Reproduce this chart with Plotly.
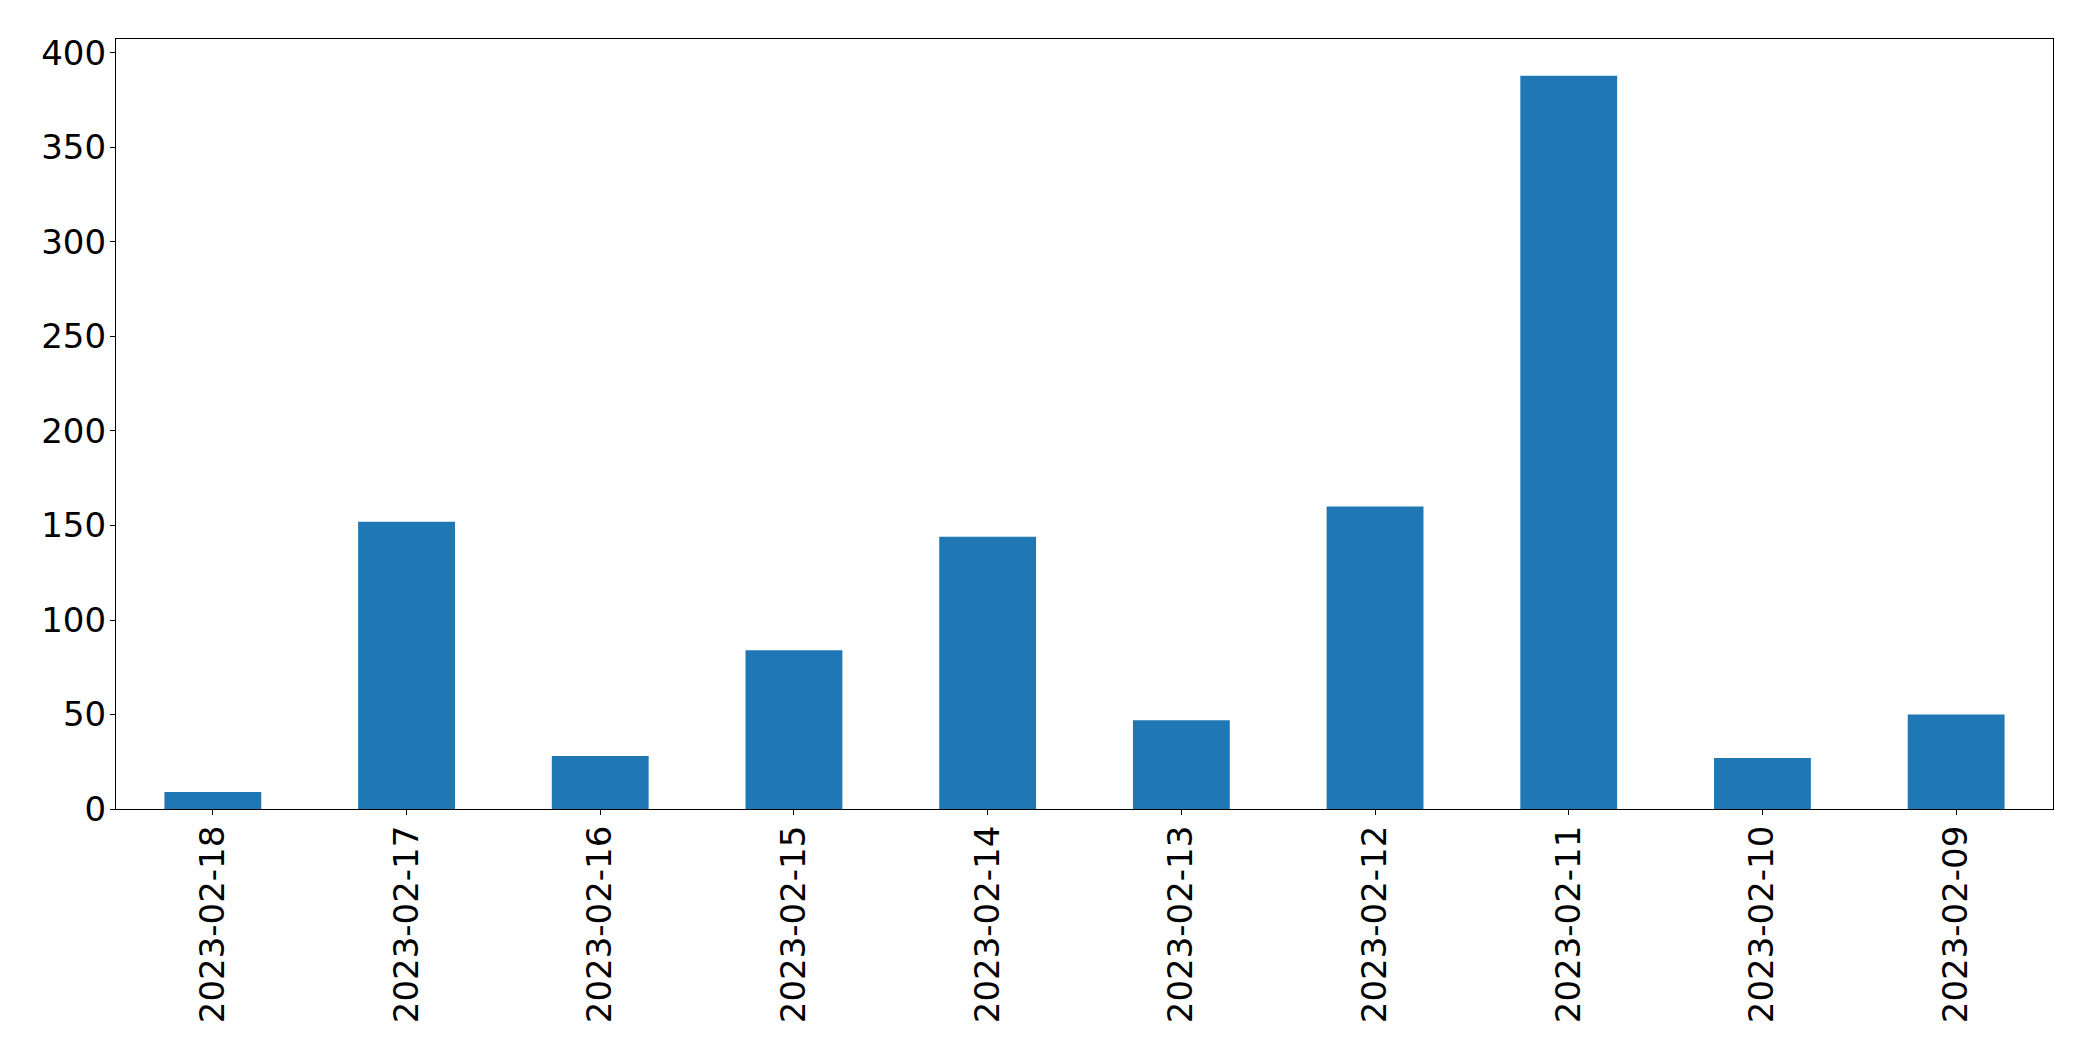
import plotly.graph_objects as go

dates = ["2023-02-18", "2023-02-17", "2023-02-16", "2023-02-15", "2023-02-14",
         "2023-02-13", "2023-02-12", "2023-02-11", "2023-02-10", "2023-02-09"]
counts = [9, 152, 28, 84, 144, 47, 160, 388, 27, 50]
y_ticks = [0, 50, 100, 150, 200, 250, 300, 350, 400]

font = dict(family="DejaVu Sans", size=34, color="black")

fig = go.Figure(go.Bar(x=dates, y=counts, width=0.5, marker=dict(color="#1f77b4", line=dict(width=0))))

fig.update_layout(
    width=2077, height=1045,
    margin=dict(l=108, r=32, t=31, b=244),
    plot_bgcolor="white", paper_bgcolor="white",
    showlegend=False,
    font=font,
)
fig.update_xaxes(
    type="category", range=[-0.5, len(dates) - 0.5],
    showline=True, mirror=True, linecolor="black", linewidth=1.1,
    ticks="outside", ticklen=5, tickwidth=1.1, tickcolor="black",
    tickangle=-90, tickfont=font, showgrid=False, zeroline=False,
    ticklabelstandoff=-3,
)
fig.update_yaxes(
    range=[0, max(counts) * 1.05],
    tickvals=y_ticks, ticktext=[str(v) for v in y_ticks],
    showline=True, mirror=True, linecolor="black", linewidth=1.1,
    ticks="outside", ticklen=5, tickwidth=1.1, tickcolor="black",
    tickfont=font, showgrid=False, zeroline=False,
    ticklabelstandoff=-3,
)

fig.write_html("out.html")
